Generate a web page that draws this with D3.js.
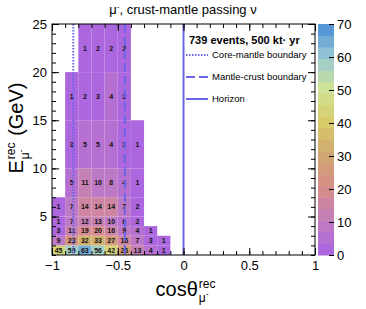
<!DOCTYPE html>
<html>
<head>
<meta charset="utf-8">
<script src="https://cdn.jsdelivr.net/npm/d3@7"></script>
<style>
body { margin:0; background:#fff; }
svg { display:block; font-family:'Liberation Sans', Arial, sans-serif; }
</style>
</head>
<body>
<svg id="chart" width="366" height="309"></svg>
<script>
// bin edges
var cosEdges = [-1, -0.9, -0.8, -0.7, -0.6, -0.5, -0.4, -0.3, -0.2, -0.1, 0]
var energyEdges = [1, 2, 3, 4, 5, 7, 10, 15, 20, 25]

// events per bin, one row per energy bin (low to high), columns follow cosEdges
var counts = [
	[45, 59, 63, 56, 42, 26, 13, 4, 1],
	[9, 23, 32, 33, 27, 16, 7, 3, 1],
	[3, 11, 19, 20, 16, 9, 4, 1, null],
	[1, 7, 12, 13, 10, 6, 2, null, null],
	[1, 7, 14, 14, 14, 7, 2, null, null],
	[null, 5, 11, 10, 8, 4, 1, null, null],
	[null, 3, 5, 5, 4, 3, 1, null, null],
	[null, 1, 2, 3, 4, 3, null, null, null],
	[null, null, 1, 2, 2, 2, null, null, null]
]

// earth boundaries drawn as vertical lines
var boundaryNames = ['Core-mantle boundary', 'Mantle-crust boundary', 'Horizon']
var boundaryCos = [-0.838, -0.446, 0]

var xTicks = [-1, -0.5, 0, 0.5, 1]
var yTicks = [5, 10, 15, 20, 25]
var zTicks = [0, 10, 20, 30, 40, 50, 60, 70]
var legendHeader = '739 events, 500 kt\u00b7 yr'

// styles
var lineColor = '#6a66e6'
var dashes = ['1.5,1.5', '9,4', null]
var paletteStops = ['#a862e4', '#c07cc0', '#d88c8a', '#cfa673', '#d8c868', '#d0e494', '#98c8d2', '#4a8ed8']
var nContours = 20

var svg = d3.select('#chart')
var frame = {left:52, right:315, top:24, bottom:255}

var x = d3.scaleLinear().domain([-1, 1]).range([frame.left, frame.right])
var y = d3.scaleLinear().domain([1, 25]).range([frame.bottom, frame.top])
var z = d3.scaleLinear().domain([0, 70]).range([frame.bottom, frame.top])
var palette = d3.scaleLinear().domain(d3.range(0, 71, 10)).range(paletteStops).interpolate(d3.interpolateRgb)
var step = 70 / nContours
var bandColor = function(v) {
	var b = Math.min(Math.floor(v / step), nContours - 1)
	return palette((b + 0.5) * step)
}

// cells
var cells = []
counts.forEach(function(row, i) {
	row.forEach(function(v, j) {
		if(v == null) return
		cells.push({x0:cosEdges[j], x1:cosEdges[j + 1], y0:energyEdges[i], y1:energyEdges[i + 1], v:v})
	})
})

var plot = svg.append('g')
plot.selectAll('rect.cell').data(cells).enter().append('rect')
	.attr('class', 'cell')
	.attr('x', function(d) { return x(d.x0) })
	.attr('y', function(d) { return y(d.y1) })
	.attr('width', function(d) { return x(d.x1) - x(d.x0) })
	.attr('height', function(d) { return y(d.y0) - y(d.y1) })
	.attr('fill', function(d) { return bandColor(d.v) })

plot.selectAll('text.val').data(cells).enter().append('text')
	.attr('class', 'val')
	.attr('x', function(d) { return (x(d.x0) + x(d.x1)) / 2 })
	.attr('y', function(d) { return (y(d.y0) + y(d.y1)) / 2 })
	.attr('dy', '0.35em')
	.attr('text-anchor', 'middle')
	.style('font-size', '7px')
	.style('font-weight', 'bold')
	.attr('fill', '#111')
	.text(function(d) { return d.v })

// boundary lines
boundaryCos.forEach(function(c, i) {
	svg.append('line')
		.attr('x1', x(c)).attr('x2', x(c))
		.attr('y1', frame.top).attr('y2', frame.bottom)
		.attr('stroke', lineColor).attr('stroke-width', 2)
		.attr('stroke-dasharray', dashes[i])
})

// axes, ticks pointing inward like ROOT
var addAxis = function(axis, tx, ty) {
	var g = svg.append('g').attr('transform', 'translate(' + tx + ',' + ty + ')').call(axis)
	g.select('.domain').remove()
	g.selectAll('line').attr('stroke', '#000')
	g.selectAll('text').style('font-size', '13px').attr('fill', '#000')
	return g
}
var xMinor = d3.range(-10, 11).map(function(k) { return k / 10 })
var yMinor = d3.range(1, 26)
var fmt = function(d) { return d < 0 ? '\u2212' + Math.abs(d) : d }

addAxis(d3.axisBottom(x).tickValues(xTicks).tickSize(-7).tickPadding(6).tickFormat(fmt), 0, frame.bottom)
addAxis(d3.axisBottom(x).tickValues(xMinor).tickSize(-4).tickFormat(''), 0, frame.bottom)
addAxis(d3.axisTop(x).tickValues(xTicks).tickSize(-7).tickFormat(''), 0, frame.top)
addAxis(d3.axisTop(x).tickValues(xMinor).tickSize(-4).tickFormat(''), 0, frame.top)
addAxis(d3.axisLeft(y).tickValues(yTicks).tickSize(-7).tickPadding(5), frame.left, 0)
addAxis(d3.axisLeft(y).tickValues(yMinor).tickSize(-4).tickFormat(''), frame.left, 0)
addAxis(d3.axisRight(y).tickValues(yTicks).tickSize(-7).tickFormat(''), frame.right, 0)
addAxis(d3.axisRight(y).tickValues(yMinor).tickSize(-4).tickFormat(''), frame.right, 0)

svg.append('rect')
	.attr('x', frame.left).attr('y', frame.top)
	.attr('width', frame.right - frame.left).attr('height', frame.bottom - frame.top)
	.attr('fill', 'none').attr('stroke', '#000')

// palette
var bar = {left:318, right:334}
svg.selectAll('rect.band').data(d3.range(nContours)).enter().append('rect')
	.attr('class', 'band')
	.attr('x', bar.left)
	.attr('y', function(b) { return z((b + 1) * step) })
	.attr('width', bar.right - bar.left)
	.attr('height', function(b) { return z(b * step) - z((b + 1) * step) + 0.5 })
	.attr('fill', function(b) { return palette((b + 0.5) * step) })
var zg = addAxis(d3.axisRight(z).tickValues(zTicks).tickSize(-5).tickPadding(8), bar.right, 0)
zg.selectAll('text').attr('x', 3)

// legend
var leg = svg.append('g')
leg.append('text').attr('x', 189).attr('y', 44)
	.style('font-size', '11px').style('font-weight', 'bold')
	.text(legendHeader)
boundaryNames.forEach(function(name, i) {
	var ly = 55 + i * 22
	leg.append('line').attr('x1', 186).attr('x2', 208).attr('y1', ly).attr('y2', ly)
		.attr('stroke', lineColor).attr('stroke-width', 2)
		.attr('stroke-dasharray', dashes[i])
	leg.append('text').attr('x', 212).attr('y', ly).attr('dy', '0.35em')
		.style('font-size', '9.5px').text(name)
})

// title
var title = svg.append('text').attr('x', 183).attr('y', 14).attr('text-anchor', 'middle').style('font-size', '13px')
title.append('tspan').text('\u03bc')
title.append('tspan').attr('dy', -5).style('font-size', '8px').text('-')
title.append('tspan').attr('dy', 5).text(', crust-mantle passing \u03bd')

// axis titles with stacked super/subscripts
var latexTitle = function(g, base, sup, sub, tail, size) {
	var small = size * 0.6
	var t0 = g.append('text').style('font-size', size + 'px').text(base)
	var w0 = t0.node().getComputedTextLength() + 1
	var t1 = g.append('text').attr('x', w0).attr('y', -size * 0.42).style('font-size', small + 'px').text(sup)
	var t2 = g.append('text').attr('x', w0).attr('y', size * 0.3).style('font-size', small + 'px')
	t2.append('tspan').text('\u03bc')
	t2.append('tspan').attr('dy', -small * 0.4).style('font-size', (small * 0.7) + 'px').text('-')
	var w1 = Math.max(t1.node().getComputedTextLength(), t2.node().getComputedTextLength()) + 1
	var w = w0 + w1
	if(tail) {
		w += size * 0.28
		var t3 = g.append('text').attr('x', w).style('font-size', size + 'px').text(tail)
		w += t3.node().getComputedTextLength()
	}
	g.selectAll('text').attr('transform', 'translate(' + (-w / 2) + ',0)')
}
latexTitle(svg.append('g').attr('transform', 'translate(186,296)'), 'cos\u03b8', 'rec', '\u03bc', null, 20)
latexTitle(svg.append('g').attr('transform', 'translate(23,128) rotate(-90)'), 'E', 'rec', '\u03bc', '(GeV)', 20)
</script>
</body>
</html>
